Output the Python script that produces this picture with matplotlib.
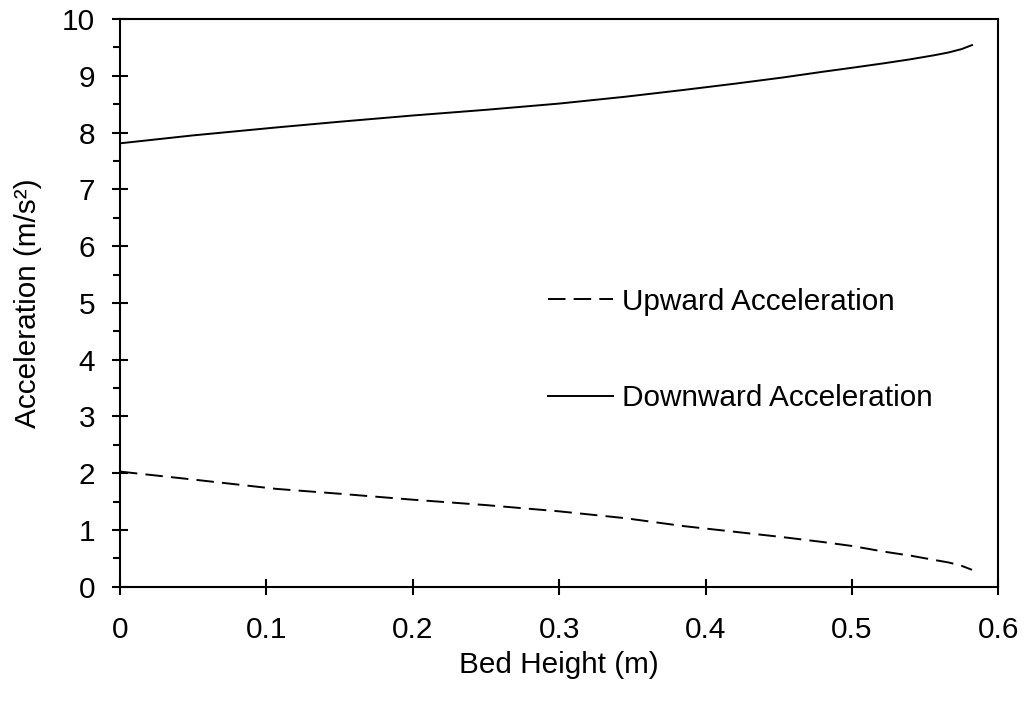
import matplotlib.pyplot as plt
from matplotlib.ticker import MultipleLocator

plt.rcParams['font.family'] = ['Liberation Sans', 'DejaVu Sans']

# values
bed_height = [0.0, 0.05, 0.107, 0.15, 0.2, 0.25, 0.3, 0.345, 0.385, 0.42, 0.453, 0.48, 0.5, 0.522, 0.54, 0.556, 0.566, 0.575, 0.582]
upward = [2.03, 1.89, 1.725, 1.64, 1.535, 1.44, 1.33, 1.21, 1.07, 0.97, 0.875, 0.79, 0.72, 0.62, 0.55, 0.475, 0.43, 0.37, 0.30]
downward = [7.81, 7.95, 8.09, 8.19, 8.30, 8.40, 8.51, 8.63, 8.75, 8.86, 8.97, 9.07, 9.14, 9.22, 9.29, 9.36, 9.41, 9.47, 9.54]

fig = plt.figure(figsize=(10.25, 7.02), dpi=100)
ax = fig.add_axes([0.117, 0.164, 0.857, 0.809])

ax.plot(bed_height, upward, color='black', lw=1.4, dashes=(9, 4.2), label='Upward Acceleration')
ax.plot(bed_height, downward, color='black', lw=1.4, label='Downward Acceleration')

ax.set_xlim(0, 0.6)
ax.set_ylim(0, 10)
ax.yaxis.set_major_locator(MultipleLocator(1))
ax.yaxis.set_minor_locator(MultipleLocator(0.5))
ax.set_xticks([0, 0.1, 0.2, 0.3, 0.4, 0.5, 0.6], ['0', '0.1', '0.2', '0.3', '0.4', '0.5', '0.6'])

for s in ax.spines.values():
    s.set_linewidth(1.5)
ax.tick_params(which='major', direction='inout', length=12, width=1.5, labelsize=21.4)
ax.tick_params(axis='y', which='major', pad=12)
ax.tick_params(axis='x', which='major', pad=15)
ax.tick_params(axis='y', which='minor', direction='out', length=5, width=1.5)

ax.set_xlabel('Bed Height (m)', fontsize=21.4, labelpad=5)
ax.set_ylabel('Acceleration (m/s²)', fontsize=21.4, labelpad=14)

ax.legend(loc='upper left', bbox_to_anchor=(0.487, 0.527), frameon=False, fontsize=21.4,
          handlelength=2.2, handletextpad=0.31, labelspacing=2.3, borderpad=0, borderaxespad=0)

fig.savefig('out.png', dpi=100)
